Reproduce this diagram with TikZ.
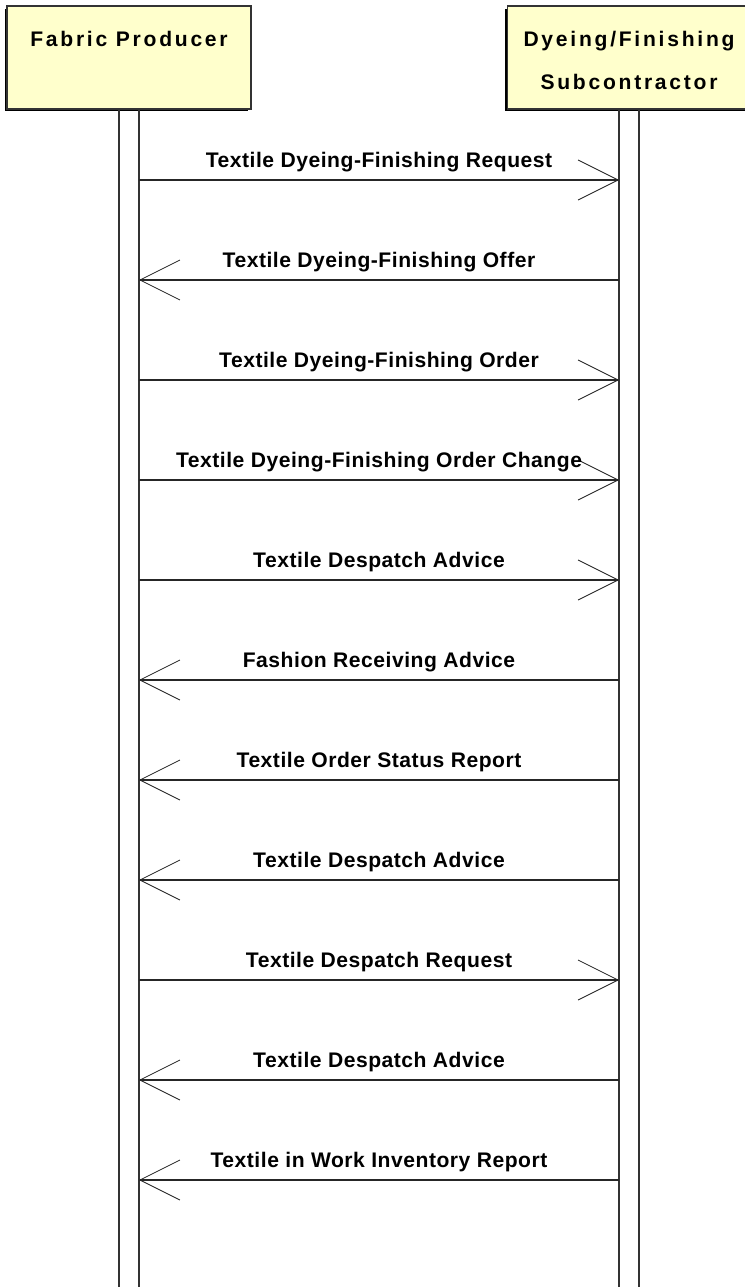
\documentclass[tikz,border=0pt]{standalone}
\usepackage{fontspec}
\usetikzlibrary{arrows.meta,shadows}
\newfontfamily\headfont[LetterSpace=13]{Liberation Sans}
\newfontfamily\msgfont[LetterSpace=2.5]{Liberation Sans}
\definecolor{boxyellow}{HTML}{FFFFCC}
\begin{document}
\begin{tikzpicture}[x=0.02cm,y=-0.02cm,
    actor/.style={draw=black!80,line width=0.6pt,fill=boxyellow,minimum width=4.88cm,minimum height=2.06cm,
        drop shadow={shadow xshift=-0.05cm,shadow yshift=-0.05cm,fill=black,opacity=1}},
    actortext/.style={anchor=north,yshift=-0.51cm,inner sep=0pt,align=center,
        font=\headfont\bfseries\fontsize{12}{24.5}\selectfont},
    life/.style={draw=black!80,line width=0.8pt},
    msg/.style={draw=black!85,line width=0.85pt},
    msgr/.style={-{Straight Barb[length=0.8cm,width=0.8cm,line width=0.5pt]}},
    msgl/.style={{Straight Barb[length=0.8cm,width=0.8cm,line width=0.5pt]}-},
    msglabel/.style={font=\msgfont\bfseries\fontsize{12}{14}\selectfont,anchor=base,yshift=0.26cm,inner sep=0pt}]
    \useasboundingbox (0,0) rectangle (744,1287);
    \node[actor,label={[actortext]north:Fabric Producer}] (producer) at (129,57.5) {};
    \node[actor,label={[actortext]north:Dyeing/Finishing\\Subcontractor}] (dyer) at (629,57.5) {};
    \foreach \n in {producer,dyer} {
        \draw[life] ([xshift=-0.2cm]\n.south) -- ++(0,1200);
        \draw[life] ([xshift=0.2cm]\n.south) -- ++(0,1200);
    }
    \foreach \i/\y/\dir/\txt in {1/180/msgr/Textile Dyeing-Finishing Request,
            2/280/msgl/Textile Dyeing-Finishing Offer,
            3/380/msgr/Textile Dyeing-Finishing Order,
            4/480/msgr/Textile Dyeing-Finishing Order Change,
            5/580/msgr/Textile Despatch Advice,
            6/680/msgl/Fashion Receiving Advice,
            7/780/msgl/Textile Order Status Report,
            8/880/msgl/Textile Despatch Advice,
            9/980/msgr/Textile Despatch Request,
            10/1080/msgl/Textile Despatch Advice,
            11/1180/msgl/Textile in Work Inventory Report} {
        \coordinate (p\i) at (139,\y);
        \coordinate (d\i) at (619,\y);
        \draw[msg,\dir] (p\i) -- node[msglabel] {\txt} (d\i);
    }
\end{tikzpicture}
\end{document}
